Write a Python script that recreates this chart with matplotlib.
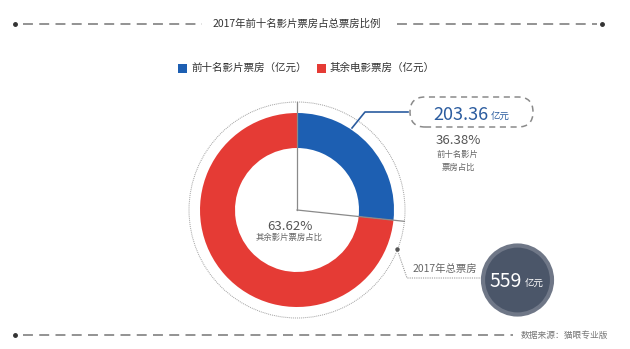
import numpy as np
import matplotlib
matplotlib.use("Agg")
import matplotlib.pyplot as plt
from matplotlib.patches import Circle, FancyBboxPatch

plt.rcParams['font.family'] = ['Noto Sans CJK SC', 'DejaVu Sans']

# data
labels = ['前十名影片票房（亿元）', '其余电影票房（亿元）']
top10 = 203.36
total = 559
pie_values = [top10, total]          # the original graphic drew the ring with these two values
top10_share = '36.38%'
rest_share = '63.62%'
colors = ['#1d5fb2', '#e53b35']

W, H = 630, 349
def Y(y):
    return H - y

fig = plt.figure(figsize=(6.3, 3.49), dpi=100)
ax = fig.add_axes([0, 0, 1, 1])

grey = '#8a8a8a'
dash_kw = dict(color=grey, lw=1.3, linestyle=(0, (5.5, 3.5)), solid_capstyle='butt')

# donut
cx, cy = 297, Y(210)
R, r_in = 97, 62
ax.pie(pie_values, colors=colors, startangle=90, counterclock=False,
       center=(cx, cy), radius=R, wedgeprops=dict(width=R - r_in, linewidth=0),
       frame=True)
ax.set_xlim(0, W)
ax.set_ylim(0, H)
ax.set_aspect('auto')
ax.axis('off')

# title line
ax.plot([23, 202], [Y(24), Y(24)], **dash_kw)
ax.plot([397, 597], [Y(24), Y(24)], **dash_kw)
ax.plot([15, 602], [Y(24), Y(24)], 'o', color='#333333', ms=2.5)
ax.text(297, Y(24), '2017年前十名影片票房占总票房比例', ha='center', va='center',
        fontsize=7.5, color='#333333')

# legend
for i, (lab, c) in enumerate(zip(labels, colors)):
    x0 = [178, 317][i]
    ax.add_patch(plt.Rectangle((x0, Y(73)), 9, 9, color=c, lw=0))
    ax.text(x0 + 13, Y(68), lab, ha='left', va='center', fontsize=7.6, color='#333333')

# dotted outer ring
ax.add_patch(Circle((cx, cy), 108, fill=False, ec='#a0a0a0', lw=0.7, linestyle=(0, (1, 1))))

# boundary lines from the centre
ang = np.deg2rad(90 - 360 * pie_values[0] / sum(pie_values))
ax.plot([cx, cx], [cy, cy + 108], color=grey, lw=0.9)
ax.plot([cx, cx + 108 * np.cos(ang)], [cy, cy + 108 * np.sin(ang)], color=grey, lw=0.9)

# centre text
ax.text(290, Y(230), rest_share, ha='center', va='baseline', fontsize=9.5, color='#555555')
ax.text(289, Y(237), '其余影片票房占比', ha='center', va='center', fontsize=6, color='#666666')

# blue callout
ax.plot([352, 365, 408], [Y(128), Y(112), Y(112)], color='#2b5c9f', lw=1.2)
box = FancyBboxPatch((410, Y(127)), 123, 30, boxstyle='round,pad=0,rounding_size=15',
                     fill=False, ec=grey, lw=1.1, linestyle=(0, (4, 3)))
ax.add_patch(box)
ax.text(488, Y(120), f'{top10:.2f}', ha='right', va='baseline', fontsize=13, color='#2b5c9f')
ax.text(491, Y(120), '亿元', ha='left', va='baseline', fontsize=6.8, color='#2b5c9f')
ax.text(458, Y(144), top10_share, ha='center', va='baseline', fontsize=9.5, color='#555555')
ax.text(458, Y(154), '前十名影片', ha='center', va='center', fontsize=6, color='#666666')
ax.text(458, Y(167), '票房占比', ha='center', va='center', fontsize=6, color='#666666')

# total callout
ax.plot([397, 407, 481], [Y(249), Y(278), Y(278)], color='#9a9a9a', lw=0.8, linestyle=(0, (1, 1)))
ax.plot([397], [Y(249)], 'o', color='#555555', ms=2.2)
ax.text(445, Y(269), '2017年总票房', ha='center', va='center', fontsize=7.5, color='#666666')
ax.add_patch(Circle((517.5, Y(280)), 34.5, fc='#4b5669', ec='#6f7787', lw=3))
ax.text(522, Y(287), f'{total}', ha='right', va='baseline', fontsize=14, color='white')
ax.text(525, Y(287), '亿元', ha='left', va='baseline', fontsize=6.8, color='white')

# bottom line
ax.plot([23, 513], [Y(335), Y(335)], **dash_kw)
ax.plot([15], [Y(335)], 'o', color='#333333', ms=2.5)
ax.text(564, Y(335), '数据来源：猫眼专业版', ha='center', va='center', fontsize=6.3, color='#777777')

fig.savefig('out.png', dpi=100)
